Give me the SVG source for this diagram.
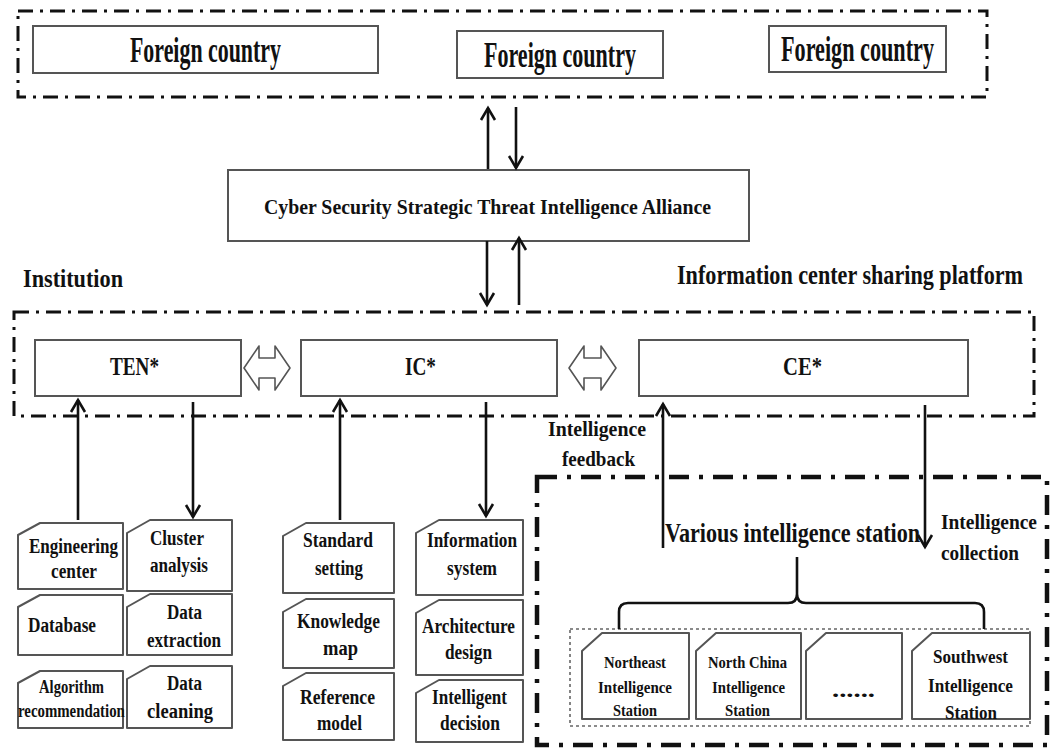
<svg xmlns="http://www.w3.org/2000/svg" width="1055" height="751" viewBox="0 0 1055 751">
  <defs>
    <style>
      .t { font-family: "Liberation Serif", "Times New Roman", serif; font-weight: bold; fill: #111; }
      .box { fill: #fff; stroke: #555; stroke-width: 2; }
      .card { fill: #fff; stroke: #555; stroke-width: 2; stroke-linejoin: round; }
      .frame { fill: none; stroke: #111; stroke-width: 3; stroke-dasharray: 15 7 3 7; }
      .frame-bold { fill: none; stroke: #111; stroke-width: 4.5; stroke-dasharray: 20 10 4 10; }
      .dotted { fill: none; stroke: #666; stroke-width: 1.6; stroke-dasharray: 3 3; }
      .link { fill: none; stroke: #111; stroke-width: 2.6; }
      .hollow { fill: #fff; stroke: #555; stroke-width: 1.6; stroke-linejoin: round; }
    </style>
    <marker id="arrow" markerUnits="userSpaceOnUse" markerWidth="18" markerHeight="18" refX="15" refY="9" orient="auto">
      <path d="M3,2 L15,9 L3,16" fill="none" stroke="#111" stroke-width="2.6" stroke-linejoin="miter"/>
    </marker>
  </defs>

  <rect width="1055" height="751" fill="#fff"/>

  <!-- group frames -->
  <rect class="frame" x="18" y="11" width="969" height="86"/>
  <rect class="frame" x="14" y="312" width="1020" height="104"/>
  <rect class="frame-bold" x="537" y="477" width="510" height="268"/>
  <rect class="dotted" x="570" y="629" width="460" height="97"/>

  <!-- foreign countries -->
  <g id="foreign-1">
    <rect class="box" x="33" y="26" width="345" height="47"/>
    <text class="t" x="130" y="62" font-size="35" textLength="151" lengthAdjust="spacingAndGlyphs">Foreign country</text>
  </g>
  <g id="foreign-2">
    <rect class="box" x="457" y="31" width="206" height="47"/>
    <text class="t" x="484" y="67" font-size="35" textLength="152" lengthAdjust="spacingAndGlyphs">Foreign country</text>
  </g>
  <g id="foreign-3">
    <rect class="box" x="769" y="26" width="177" height="46"/>
    <text class="t" x="781" y="61" font-size="35" textLength="153" lengthAdjust="spacingAndGlyphs">Foreign country</text>
  </g>

  <!-- alliance -->
  <g id="alliance">
    <rect class="box" x="228" y="170" width="521" height="71"/>
    <text class="t" x="264" y="214" font-size="21" textLength="447" lengthAdjust="spacingAndGlyphs">Cyber Security Strategic Threat Intelligence Alliance</text>
  </g>

  <!-- section labels (condensed lettering) -->
  <g id="labels">
    <text class="t" x="23" y="287" font-size="26" textLength="100" lengthAdjust="spacingAndGlyphs">Institution</text>
    <text class="t" transform="translate(677,284) scale(0.82,1)" font-size="27" textLength="422" lengthAdjust="spacingAndGlyphs">Information center sharing platform</text>
    <text class="t" x="548" y="436" font-size="21" textLength="98" lengthAdjust="spacingAndGlyphs">Intelligence</text>
    <text class="t" x="562" y="466" font-size="21" textLength="73" lengthAdjust="spacingAndGlyphs">feedback</text>
    <text class="t" transform="translate(941,529) scale(0.923,1)" font-size="21" textLength="104" lengthAdjust="spacingAndGlyphs">Intelligence</text>
    <text class="t" transform="translate(941,560) scale(0.917,1)" font-size="21" textLength="85" lengthAdjust="spacingAndGlyphs">collection</text>
  </g>

  <!-- platform members -->
  <g id="ten">
    <rect class="box" x="35" y="340" width="206" height="56"/>
    <text class="t" x="110" y="375" font-size="25" textLength="49" lengthAdjust="spacingAndGlyphs">TEN*</text>
  </g>
  <g id="ic">
    <rect class="box" x="301" y="340" width="256" height="56"/>
    <text class="t" x="405" y="375" font-size="25" textLength="31" lengthAdjust="spacingAndGlyphs">IC*</text>
  </g>
  <g id="ce">
    <rect class="box" x="639" y="340" width="329" height="56"/>
    <text class="t" x="783" y="375" font-size="25" textLength="39" lengthAdjust="spacingAndGlyphs">CE*</text>
  </g>

  <!-- two-way exchanges between members -->
  <g id="exchange-ten-ic">
    <path class="hollow" d="M244,368 L259,346 L259,358 L275,358 L275,346 L290,368 L275,390 L275,378 L259,378 L259,390 Z"/>
  </g>
  <g id="exchange-ic-ce">
    <path class="hollow" d="M569,368 L584,346 L584,358 L601,358 L601,346 L616,368 L601,390 L601,378 L584,378 L584,390 Z"/>
  </g>

  <!-- TEN* resources -->
  <g id="engineering-center">
    <path class="card" d="M18,535 L40,523 L123,523 L123,589 L18,589 Z"/>
    <text class="t" x="29" y="553" font-size="20" textLength="89" lengthAdjust="spacingAndGlyphs">Engineering</text>
    <text class="t" x="51" y="578" font-size="20" textLength="46" lengthAdjust="spacingAndGlyphs">center</text>
  </g>
  <g id="database">
    <path class="card" d="M18,607 L40,595 L123,595 L123,655 L18,655 Z"/>
    <text class="t" x="28" y="632" font-size="20" textLength="68" lengthAdjust="spacingAndGlyphs">Database</text>
  </g>
  <g id="algorithm-recommendation">
    <path class="card" d="M18,683 L40,671 L123,671 L123,728 L18,728 Z"/>
    <text class="t" x="39" y="693" font-size="19" textLength="65" lengthAdjust="spacingAndGlyphs">Algorithm</text>
    <text class="t" transform="translate(18,717) scale(0.78,1)" font-size="19" textLength="137" lengthAdjust="spacingAndGlyphs">recommendation</text>
  </g>
  <g id="cluster-analysis">
    <path class="card" d="M127,533 L150,520 L232,520 L232,591 L127,591 Z"/>
    <text class="t" x="150" y="545" font-size="20" textLength="54" lengthAdjust="spacingAndGlyphs">Cluster</text>
    <text class="t" x="150" y="572" font-size="20" textLength="58" lengthAdjust="spacingAndGlyphs">analysis</text>
  </g>
  <g id="data-extraction">
    <path class="card" d="M127,607 L150,594 L232,594 L232,655 L127,655 Z"/>
    <text class="t" x="167" y="619" font-size="20" textLength="35" lengthAdjust="spacingAndGlyphs">Data</text>
    <text class="t" x="147" y="647" font-size="20" textLength="74" lengthAdjust="spacingAndGlyphs">extraction</text>
  </g>
  <g id="data-cleaning">
    <path class="card" d="M127,679 L150,666 L232,666 L232,728 L127,728 Z"/>
    <text class="t" x="167" y="690" font-size="20" textLength="35" lengthAdjust="spacingAndGlyphs">Data</text>
    <text class="t" x="147" y="718" font-size="20" textLength="66" lengthAdjust="spacingAndGlyphs">cleaning</text>
  </g>

  <!-- IC* resources -->
  <g id="standard-setting">
    <path class="card" d="M283,536 L306,523 L394,523 L394,593 L283,593 Z"/>
    <text class="t" x="303" y="547" font-size="20" textLength="70" lengthAdjust="spacingAndGlyphs">Standard</text>
    <text class="t" x="315" y="575" font-size="20" textLength="48" lengthAdjust="spacingAndGlyphs">setting</text>
  </g>
  <g id="knowledge-map">
    <path class="card" d="M283,612 L306,599 L394,599 L394,668 L283,668 Z"/>
    <text class="t" x="297" y="628" font-size="20" textLength="83" lengthAdjust="spacingAndGlyphs">Knowledge</text>
    <text class="t" x="323" y="655" font-size="20" textLength="35" lengthAdjust="spacingAndGlyphs">map</text>
  </g>
  <g id="reference-model">
    <path class="card" d="M283,686 L306,673 L394,673 L394,740 L283,740 Z"/>
    <text class="t" x="300" y="704" font-size="20" textLength="75" lengthAdjust="spacingAndGlyphs">Reference</text>
    <text class="t" x="317" y="730" font-size="20" textLength="45" lengthAdjust="spacingAndGlyphs">model</text>
  </g>
  <g id="information-system">
    <path class="card" d="M416,533 L439,520 L523,520 L523,595 L416,595 Z"/>
    <text class="t" x="427" y="547" font-size="20" textLength="90" lengthAdjust="spacingAndGlyphs">Information</text>
    <text class="t" x="447" y="575" font-size="20" textLength="50" lengthAdjust="spacingAndGlyphs">system</text>
  </g>
  <g id="architecture-design">
    <path class="card" d="M416,613 L439,600 L523,600 L523,675 L416,675 Z"/>
    <text class="t" x="422" y="633" font-size="20" textLength="93" lengthAdjust="spacingAndGlyphs">Architecture</text>
    <text class="t" x="445" y="659" font-size="20" textLength="47" lengthAdjust="spacingAndGlyphs">design</text>
  </g>
  <g id="intelligent-decision">
    <path class="card" d="M416,693 L439,680 L523,680 L523,742 L416,742 Z"/>
    <text class="t" x="432" y="704" font-size="20" textLength="75" lengthAdjust="spacingAndGlyphs">Intelligent</text>
    <text class="t" x="440" y="730" font-size="20" textLength="60" lengthAdjust="spacingAndGlyphs">decision</text>
  </g>

  <!-- intelligence stations -->
  <g id="various-stations">
    <text class="t" transform="translate(665,542) scale(0.785,1)" font-size="28" textLength="325" lengthAdjust="spacingAndGlyphs">Various intelligence station</text>
  </g>
  <g id="station-northeast">
    <path class="card" d="M582,651 L602,633 L689,633 L689,719 L582,719 Z"/>
    <text class="t" x="604" y="668" font-size="17" textLength="62" lengthAdjust="spacingAndGlyphs">Northeast</text>
    <text class="t" x="598" y="693" font-size="17" textLength="74" lengthAdjust="spacingAndGlyphs">Intelligence</text>
    <text class="t" x="613" y="716" font-size="17" textLength="44" lengthAdjust="spacingAndGlyphs">Station</text>
  </g>
  <g id="station-north-china">
    <path class="card" d="M696,651 L716,633 L801,633 L801,719 L696,719 Z"/>
    <text class="t" x="708" y="668" font-size="17" textLength="79" lengthAdjust="spacingAndGlyphs">North China</text>
    <text class="t" x="712" y="693" font-size="17" textLength="73" lengthAdjust="spacingAndGlyphs">Intelligence</text>
    <text class="t" x="725" y="716" font-size="17" textLength="45" lengthAdjust="spacingAndGlyphs">Station</text>
  </g>
  <g id="station-more">
    <path class="card" d="M806,651 L826,633 L902,633 L902,719 L806,719 Z"/>
    <text class="t" x="832" y="697" font-size="20" textLength="43" lengthAdjust="spacingAndGlyphs">......</text>
  </g>
  <g id="station-southwest">
    <path class="card" d="M912,651 L932,633 L1030,633 L1030,719 L912,719 Z"/>
    <text class="t" x="933" y="663" font-size="19" textLength="75" lengthAdjust="spacingAndGlyphs">Southwest</text>
    <text class="t" x="928" y="692" font-size="19" textLength="85" lengthAdjust="spacingAndGlyphs">Intelligence</text>
    <text class="t" x="945" y="719" font-size="19" textLength="52" lengthAdjust="spacingAndGlyphs">Station</text>
  </g>

  <!-- connectors -->
  <g id="connectors">
    <line class="link" x1="488" y1="169" x2="488" y2="108" marker-end="url(#arrow)"/>
    <line class="link" x1="516" y1="107" x2="516" y2="168" marker-end="url(#arrow)"/>
    <line class="link" x1="487" y1="241" x2="487" y2="305" marker-end="url(#arrow)"/>
    <line class="link" x1="519" y1="305" x2="519" y2="238" marker-end="url(#arrow)"/>
    <line class="link" x1="78" y1="520" x2="78" y2="400" marker-end="url(#arrow)"/>
    <line class="link" x1="193" y1="402" x2="193" y2="517" marker-end="url(#arrow)"/>
    <line class="link" x1="340" y1="520" x2="340" y2="400" marker-end="url(#arrow)"/>
    <line class="link" x1="486" y1="402" x2="486" y2="516" marker-end="url(#arrow)"/>
    <line class="link" x1="663" y1="548" x2="663" y2="404" marker-end="url(#arrow)"/>
    <line class="link" x1="925" y1="405" x2="925" y2="547" marker-end="url(#arrow)"/>
    <path class="link" stroke-width="3" d="M619,629 L619,612 Q619,603 628,603 L788,603 Q797,603 797,594 L797,557 M797,594 Q797,603 806,603 L975,603 Q984,603 984,612 L984,629"/>
  </g>
</svg>
